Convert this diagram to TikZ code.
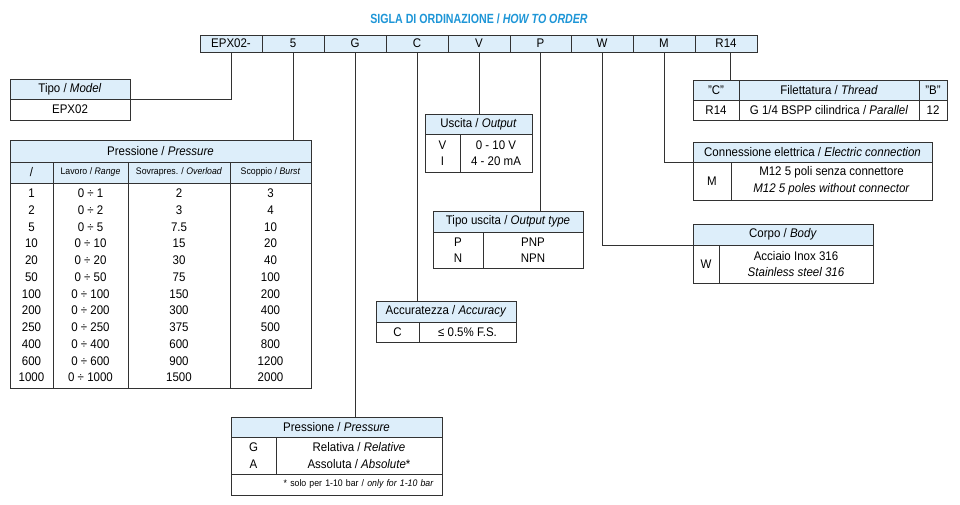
\documentclass[tikz,border=0pt]{standalone}
\usepackage{fontspec}
\setmainfont{Liberation Sans}[FakeStretch=0.92]
\newfontfamily\titlefont{Liberation Sans Bold}[FakeStretch=0.8, ItalicFont={Liberation Sans Bold Italic}]
\definecolor{hdrblue}{RGB}{221,238,250}
\definecolor{titleblue}{RGB}{30,150,215}
\definecolor{linecol}{RGB}{50,50,50}
\newcommand\tcell[7]{%
  \pgfmathsetmacro\tcw{#4-#2}\pgfmathsetmacro\tch{#5-#3}%
  \pgfmathsetmacro\tcx{(#2+#4)/2}\pgfmathsetmacro\tcy{(#3+#5)/2}%
  \node[cell,#6,minimum width=\tcw pt,minimum height=\tch pt] (#1) at (\tcx,\tcy) {#7};}
\tikzset{
  cell/.style={draw=linecol, line width=0.9pt, inner sep=0pt, align=center,
    font=\fontsize{12.5}{16.5}\selectfont},
  hdr/.style={fill=hdrblue},
  small/.style={font=\fontsize{9.5}{11}\selectfont},
  rows/.style={font=\fontsize{12.5}{16.75}\selectfont},
  conn/.style={draw=linecol, line width=0.9pt}
}
\begin{document}
\begin{tikzpicture}[x=1pt,y=-1pt]
\useasboundingbox[fill=white] (0,0) rectangle (960,504);
% title
\node[font=\titlefont\fontsize{13.3}{15}\selectfont, text=titleblue] (title) at (479,19)
  {SIGLA DI ORDINAZIONE / \textit{HOW TO ORDER}};
% code row
\tcell{c1}{200}{35}{262}{52}{hdr}{EPX02-}
\tcell{c2}{262}{35}{324}{52}{hdr}{5}
\tcell{c3}{324}{35}{386}{52}{hdr}{G}
\tcell{c4}{386}{35}{448}{52}{hdr}{C}
\tcell{c5}{448}{35}{510}{52}{hdr}{V}
\tcell{c6}{510}{35}{571}{52}{hdr}{P}
\tcell{c7}{571}{35}{633}{52}{hdr}{W}
\tcell{c8}{633}{35}{695}{52}{hdr}{M}
\tcell{c9}{695}{35}{757}{52}{hdr}{R14}
% Tipo / Model
\tcell{tipoH}{10}{79}{130}{99}{hdr}{Tipo / \textit{Model}}
\tcell{tipoB}{10}{99}{130}{120}{}{EPX02}
% Pressione big table
\tcell{pH}{10}{140}{311}{162}{hdr}{Pressione / \textit{Pressure}}
\tcell{pS1}{10}{162}{53}{183}{hdr}{/}
\tcell{pS2}{53}{162}{128}{183}{hdr,small}{Lavoro / \textit{Range}}
\tcell{pS3}{128}{162}{230}{183}{hdr,small}{Sovrapres. / \textit{Overload}}
\tcell{pS4}{230}{162}{311}{183}{hdr,small}{Scoppio / \textit{Burst}}
\tcell{pB1}{10}{183}{53}{388}{rows}{1\\2\\5\\10\\20\\50\\100\\200\\250\\400\\600\\1000}
\tcell{pB2}{53}{183}{128}{388}{rows}{0 ÷ 1\\0 ÷ 2\\0 ÷ 5\\0 ÷ 10\\0 ÷ 20\\0 ÷ 50\\0 ÷ 100\\0 ÷ 200\\0 ÷ 250\\0 ÷ 400\\0 ÷ 600\\0 ÷ 1000}
\tcell{pB3}{128}{183}{230}{388}{rows}{2\\3\\7.5\\15\\30\\75\\150\\300\\375\\600\\900\\1500}
\tcell{pB4}{230}{183}{311}{388}{rows}{3\\4\\10\\20\\40\\100\\200\\400\\500\\800\\1200\\2000}
% Pressione lower table
\tcell{p2H}{231}{417}{442}{437}{hdr}{Pressione / \textit{Pressure}}
\tcell{p2B1}{231}{437}{276}{474}{}{G\\A}
\tcell{p2B2}{276}{437}{442}{474}{}{Relativa / \textit{Relative}\\Assoluta / \textit{Absolute}*}
\tcell{p2F}{231}{474}{442}{495}{small,align=right,text width=194pt}{* solo per 1-10 bar / \textit{only for 1-10 bar}}
% Uscita
\tcell{uH}{425}{114}{532}{134}{hdr}{Uscita / \textit{Output}}
\tcell{uB1}{425}{134}{460}{172}{}{V\\I}
\tcell{uB2}{460}{134}{532}{172}{}{0 - 10 V\\4 - 20 mA}
% Tipo uscita
\tcell{tuH}{433}{211}{583}{232}{hdr}{Tipo uscita / \textit{Output type}}
\tcell{tuB1}{433}{232}{483}{268}{}{P\\N}
\tcell{tuB2}{483}{232}{583}{268}{}{PNP\\NPN}
% Accuratezza
\tcell{accH}{376}{301}{516}{322}{hdr}{Accuratezza / \textit{Accuracy}}
\tcell{accB1}{376}{322}{419}{342}{}{C}
\tcell{accB2}{419}{322}{516}{342}{}{≤ 0.5\% F.S.}
% Thread
\tcell{thrC}{693}{80}{739}{100}{hdr}{"C"}
\tcell{thrH}{739}{80}{919}{100}{hdr}{Filettatura / \textit{Thread}}
\tcell{thrB}{919}{80}{947}{100}{hdr}{"B"}
\tcell{thr1}{693}{100}{739}{120}{}{R14}
\tcell{thr2}{739}{100}{919}{120}{}{G 1/4 BSPP cilindrica / \textit{Parallel}}
\tcell{thr3}{919}{100}{947}{120}{}{12}
% Connessione
\tcell{conH}{693}{142}{932}{162}{hdr}{Connessione elettrica / \textit{Electric connection}}
\tcell{conB1}{693}{162}{731}{200}{}{M}
\tcell{conB2}{731}{162}{932}{200}{}{M12 5 poli senza connettore\\\textit{M12 5 poles without connector}}
% Corpo
\tcell{corH}{693}{224}{873}{245}{hdr}{Corpo / \textit{Body}}
\tcell{corB1}{693}{245}{719}{283}{}{W}
\tcell{corB2}{719}{245}{873}{283}{}{Acciaio Inox 316\\\textit{Stainless steel 316}}
% connectors
\draw[conn] (c1.south) |- (tipoH.south east);
\draw[conn] (c2.south) -- (c2.south |- pH.north);
\draw[conn] (c3.south) -- (c3.south |- p2H.north);
\draw[conn] (c4.south) -- (c4.south |- accH.north);
\draw[conn] (c5.south) -- (c5.south |- uH.north);
\draw[conn] (c6.south) -- (c6.south |- tuH.north);
\draw[conn] (c7.south) |- (corH.south west);
\draw[conn] (c8.south) |- (conH.south west);
\draw[conn] ([xshift=4pt]c9.south) -- ([xshift=4pt]c9.south |- thrC.north);
\end{tikzpicture}
\end{document}
